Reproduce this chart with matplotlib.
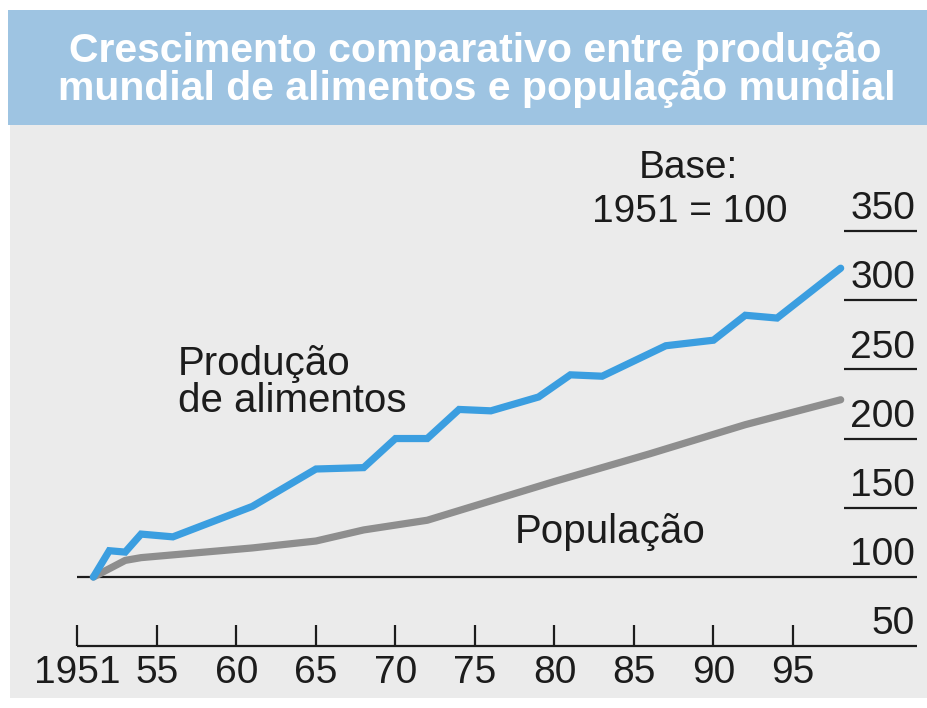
"""Crescimento comparativo: produção mundial de alimentos x população mundial (1951 = 100)."""

import matplotlib
matplotlib.use("Agg")
import matplotlib.pyplot as plt
from matplotlib.patches import Rectangle

plt.rcParams["font.family"] = ["Liberation Sans", "DejaVu Sans"]

# ---- data (index, base 1951 = 100) ----
food_years = [1951, 1952, 1953, 1954, 1956, 1961, 1965, 1968, 1970, 1972,
              1974, 1976, 1979, 1981, 1983, 1987, 1990, 1992, 1994, 1998]
food_index = [100, 119, 118, 131, 129, 151, 178, 179, 200, 200,
              221, 220, 230, 246, 245, 267, 271, 289, 287, 323]

pop_years = [1951, 1952, 1953, 1954, 1958, 1961, 1965, 1968, 1972, 1974,
             1980, 1986, 1992, 1998]
pop_index = [100, 106, 112, 114, 118, 121, 126, 134, 141, 148,
             169, 189, 210, 228]

tick_years = [1950, 1955, 1960, 1965, 1970, 1975, 1980, 1985, 1990, 1995]
tick_labels = ["1951", "55", "60", "65", "70", "75", "80", "85", "90", "95"]
scale_values = [350, 300, 250, 200, 150, 100, 50]

BLUE = "#3b9ee0"
GRAY = "#8e8e8e"
INK = "#1c1c1c"
BAND = "#9ec4e2"
BODY = "#ebebeb"

W, H = 927, 708
fig = plt.figure(figsize=(W / 100, H / 100), dpi=100)
fig.patch.set_facecolor("white")

# title band
fig.add_artist(Rectangle((8 / W, 1 - 125 / H), 1 - 8 / W, 115 / H,
                         transform=fig.transFigure, facecolor=BAND, edgecolor="none"))
fig.text(475 / W, 1 - 62 / H, "Crescimento comparativo entre produção",
         ha="center", va="baseline", color="white", fontsize=29.5, fontweight="bold")
fig.text(477 / W, 1 - 100 / H, "mundial de alimentos e população mundial",
         ha="center", va="baseline", color="white", fontsize=29.5, fontweight="bold")

# chart body
ax = fig.add_axes([10 / W, 10 / H, 917 / W, 573 / H])
ax.set_facecolor(BODY)
for s in ax.spines.values():
    s.set_visible(False)
ax.set_xticks([])
ax.set_yticks([])
ax.set_xlim(1945.755, 2003.43)
ax.set_ylim(12.64, 426.4)

xr = ax.get_xlim()[1]
right_edge = 0.989  # axes fraction

# baseline (100) and x axis (50)
trans = ax.get_yaxis_transform()
x0 = (1950 - ax.get_xlim()[0]) / (xr - ax.get_xlim()[0])
ax.hlines([100, 50], x0, right_edge, transform=trans, color=INK, lw=1.6)
ax.vlines(tick_years, 50, 65, color=INK, lw=1.6)
for yr, lab in zip(tick_years, tick_labels):
    ax.text(yr, 23.5, lab, ha="center", va="baseline", fontsize=28, color=INK)

# right-hand scale with underlines
for v in scale_values:
    if v > 100:
        ax.hlines(v, 0.909, right_edge, transform=trans, color=INK, lw=1.6)
    ax.text(0.987, v + 8.5, str(v), transform=trans, ha="right", va="baseline",
            fontsize=28, color=INK)

# series
ax.plot(pop_years, pop_index, color=GRAY, lw=5.2, solid_capstyle="round",
        solid_joinstyle="round", zorder=3)
ax.plot(food_years, food_index, color=BLUE, lw=5.2, solid_capstyle="round",
        solid_joinstyle="miter", zorder=4)

# annotations
ax.text(1988.4, 388, "Base:", ha="center", va="baseline", fontsize=28, color=INK)
ax.text(1988.5, 356.3, "1951 = 100", ha="center", va="baseline", fontsize=28, color=INK)
ax.text(1956.3, 245.8, "Produção", ha="left", va="baseline", fontsize=29, color=INK)
ax.text(1956.3, 219.1, "de alimentos", ha="left", va="baseline", fontsize=29, color=INK)
ax.text(1977.5, 124.5, "População", ha="left", va="baseline", fontsize=29, color=INK)

fig.savefig("out.png", dpi=100, facecolor=fig.get_facecolor())
